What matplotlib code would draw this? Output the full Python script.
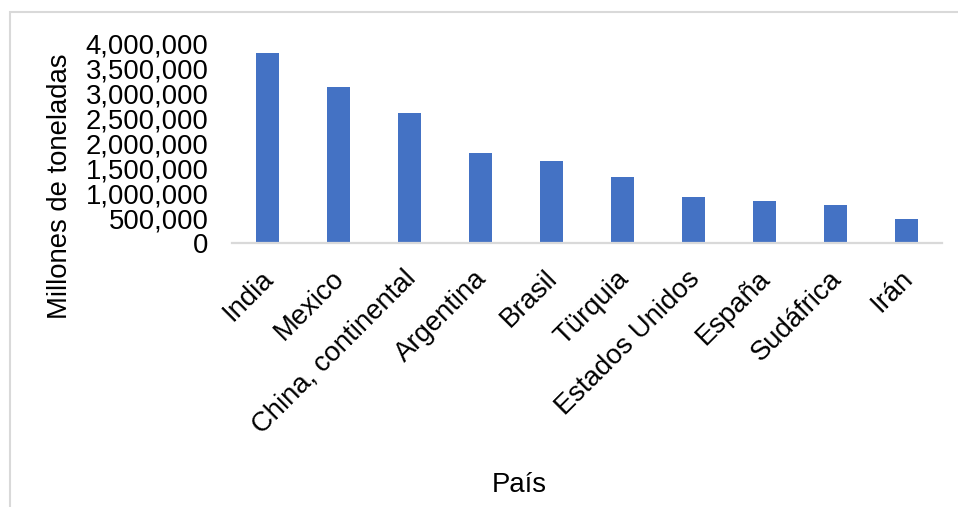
import matplotlib
matplotlib.use("Agg")
import matplotlib.pyplot as plt
import matplotlib.patches as patches
import matplotlib.transforms as mtransforms
from matplotlib.ticker import FuncFormatter

plt.rcParams['font.family'] = ['Liberation Sans', 'DejaVu Sans']

paises = ["India", "Mexico", "China, continental", "Argentina", "Brasil",
          "Türquia", "Estados Unidos", "España", "Sudáfrica", "Irán"]
toneladas = [3810000, 3130000, 2610000, 1810000, 1650000,
             1330000, 930000, 850000, 770000, 490000]

W, H = 958, 507
fig = plt.figure(figsize=(W / 100, H / 100), dpi=100)

# axes placed in pixel terms of the reference
left, right = 232, 942
top, bottom = 43.5, 243.3
ax = fig.add_axes([left / W, 1 - bottom / H, (right - left) / W, (bottom - top) / H])

x = range(len(paises))
ax.bar(x, toneladas, width=0.31, color="#4472C4", zorder=2)

ax.set_xlim(-0.5, len(paises) - 0.5)
ax.set_ylim(0, 4000000)
ax.set_yticks(range(0, 4000001, 500000))
ax.yaxis.set_major_formatter(FuncFormatter(lambda v, p: f"{int(v):,}"))

for s in ["top", "right", "left"]:
    ax.spines[s].set_visible(False)
ax.spines["bottom"].set_color("#D9D9D9")
ax.spines["bottom"].set_linewidth(1.6)
ax.spines["bottom"].set_zorder(3)

ax.tick_params(axis="y", length=0, pad=17, labelsize=19.8)
ax.tick_params(axis="x", length=0, pad=16, labelsize=19.8)
ax.set_xticks(list(x))
ax.set_xticklabels(paises, rotation=45, ha="right", va="top", rotation_mode="anchor")
shift = mtransforms.ScaledTranslation(-7 / 100, 0, fig.dpi_scale_trans)
for lbl in ax.get_xticklabels():
    lbl.set_transform(lbl.get_transform() + shift)

fig.text(60 / W, 1 - 186 / H, "Millones de toneladas", rotation=90,
         ha="center", va="center", fontsize=19.8)
fig.text(519 / W, 1 - 485 / H, "País", ha="center", va="center", fontsize=19.8)

# chart area border (only top and left edges visible in the image)
border = patches.Rectangle((10 / W, -0.1), 1.2, 1.1 - 12 / H,
                           transform=fig.transFigure, fill=False,
                           edgecolor="#D9D9D9", linewidth=1.5)
fig.patches.append(border)

fig.savefig("out.png", dpi=100)
